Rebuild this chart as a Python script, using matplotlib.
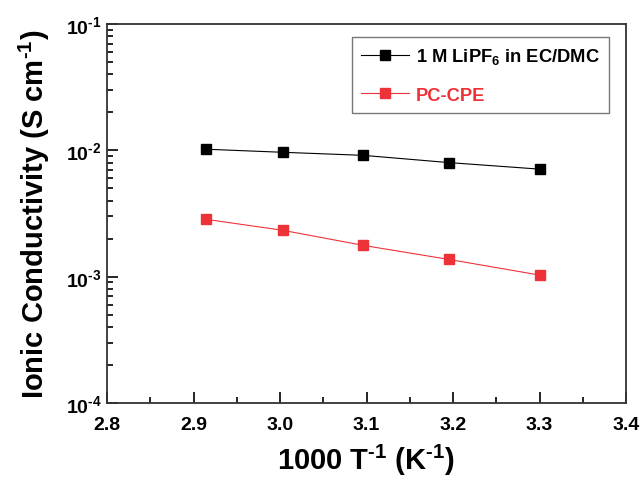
import matplotlib
matplotlib.use("Agg")
import matplotlib.pyplot as plt
from matplotlib.ticker import LogLocator, MultipleLocator, FixedLocator, FormatStrFormatter

plt.rcParams['font.family'] = ['Liberation Sans', 'DejaVu Sans']
plt.rcParams['font.weight'] = 'bold'
plt.rcParams['mathtext.fontset'] = 'custom'
plt.rcParams['mathtext.rm'] = 'Liberation Sans:bold'
plt.rcParams['mathtext.default'] = 'rm'

x_vals = [2.915, 3.003, 3.096, 3.195, 3.300]
liquid = [1.02e-2, 0.965e-2, 0.913e-2, 0.80e-2, 0.71e-2]
pccpe = [2.84e-3, 2.33e-3, 1.77e-3, 1.37e-3, 1.03e-3]
labels = ["1 M LiPF$_{6}$ in EC/DMC", "PC-CPE"]
ytick_vals = [1e-4, 1e-3, 1e-2, 1e-1]
ytick_labels = ["10$^{\\text{-4}}$", "10$^{\\text{-3}}$", "10$^{\\text{-2}}$", "10$^{\\text{-1}}$"]
red = "#EE3338"

fig = plt.figure(figsize=(6.41, 4.81), dpi=100)
ax = fig.add_axes([107/641, 1-404/481, (626-107)/641, (404-25)/481])

ax.plot(x_vals, liquid, '-', color='black', lw=0.8, marker='s', ms=7, label=labels[0])
ax.plot(x_vals, pccpe, '-', color=red, lw=0.8, marker='s', ms=7, label=labels[1])

ax.set_yscale('log')
ax.set_xlim(2.8, 3.4)
ax.set_ylim(1e-4, 1e-1)
ax.xaxis.set_major_locator(MultipleLocator(0.1))
ax.xaxis.set_minor_locator(MultipleLocator(0.05))
ax.xaxis.set_major_formatter(FormatStrFormatter('%.1f'))
ax.yaxis.set_major_locator(FixedLocator(ytick_vals))
ax.yaxis.set_minor_locator(LogLocator(base=10, subs=range(2, 10)))
ax.set_yticklabels(ytick_labels)

ax.tick_params(which='both', direction='in', top=False, right=False, labelsize=14, width=1.2)
ax.tick_params(which='major', length=8)
ax.tick_params(which='minor', length=4)
ax.tick_params(axis='x', pad=9)
ax.tick_params(axis='y', pad=4)
for s in ax.spines.values():
    s.set_linewidth(1.3)
    s.set_color('#333333')

ax.set_xlabel("1000 T$^{\\text{-1}}$ (K$^{\\text{-1}}$)", fontsize=21, fontweight='bold', labelpad=7)
ax.set_ylabel("Ionic Conductivity (S cm$^{\\text{-1}}$)", fontsize=21, fontweight='bold', labelpad=10)

leg = ax.legend(loc='upper right', bbox_to_anchor=(0.967, 0.966), borderaxespad=0,
                fontsize=13.2, frameon=True, fancybox=False, edgecolor='#555555',
                handlelength=2.6, borderpad=0.5, labelspacing=1.13, handletextpad=0.4)
leg.get_frame().set_linewidth(1.0)
leg.get_texts()[1].set_color(red)

fig.savefig("out.png", dpi=100)
